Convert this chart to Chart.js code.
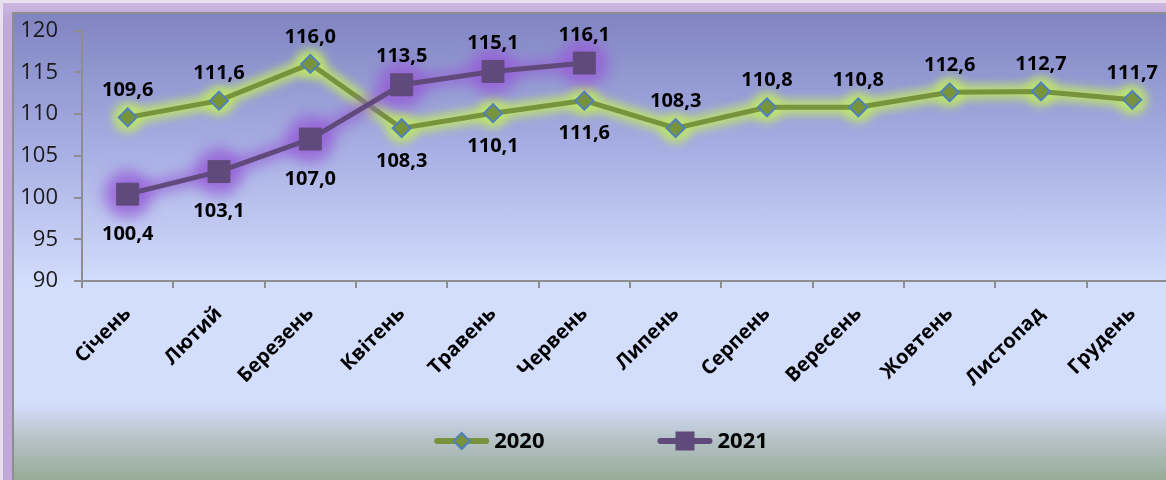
<!DOCTYPE html>
<html><head><meta charset="utf-8">
<script src="https://cdn.jsdelivr.net/npm/chart.js@4.4.1/dist/chart.umd.min.js"></script>
<style>
html,body{margin:0;padding:0;width:1166px;height:480px;overflow:hidden;background:#e8e0ef;}
#f1{position:absolute;left:3px;top:3px;width:1260px;height:520px;background:linear-gradient(#cdb7e0,#c2a9db 3%,#c2a9db);}
#f2{position:absolute;left:12px;top:12px;width:1240px;height:466px;border-left:2px solid #8e8e8e;border-top:2px solid #8e8e8e;
background:linear-gradient(to bottom,#8085c2 0%,#a9b0e4 30%,#d3ddfc 58%,#d3ddfc 84%,#b6c3c8 91%,#97ab96 100%);}
canvas{position:absolute;left:0;top:0;}
</style>
</head><body>
<div id="f1"></div>
<div id="f2"><canvas id="c" width="1190" height="466" style="width:1190px;height:466px"></canvas></div>
<script>
const categories = ['Січень','Лютий','Березень','Квітень','Травень','Червень','Липень','Серпень','Вересень','Жовтень','Листопад','Грудень'];
const values2020 = [109.6,111.6,116.0,108.3,110.1,111.6,108.3,110.8,110.8,112.6,112.7,111.7];
const values2021 = [100.4,103.1,107.0,113.5,115.1,116.1,null,null,null,null,null,null];
const seriesNames = ['2020','2021'];
const yTicks = [90,95,100,105,110,115,120];

// label placement: a = above, b = below
const placement = [
  ['a','a','a','b','b','b','a','a','a','a','a','a'],
  ['b','b','b','a','a','a']
];
const labelOffsets = [{above:27, below:33},{above:28, below:40}];
const glow = [
  {color:'rgba(190,228,105,0.9)', line:15, radius:15, blur:5},
  {color:'rgba(150,95,215,0.8)', line:13, radius:24, blur:7}
];

Chart.defaults.font.family = "'Open Sans', sans-serif";

const glowPlugin = {
  id:'glow',
  beforeDatasetDraw(chart, args){
    const g = glow[args.index];
    const pts = args.meta.data.filter(p => !p.skip);
    const ctx = chart.ctx;
    ctx.save();
    ctx.filter = 'blur(' + g.blur + 'px)';
    ctx.strokeStyle = g.color; ctx.fillStyle = g.color;
    ctx.lineWidth = g.line; ctx.lineJoin = 'round'; ctx.lineCap = 'round';
    ctx.beginPath();
    pts.forEach((p,i) => i ? ctx.lineTo(p.x,p.y) : ctx.moveTo(p.x,p.y));
    ctx.stroke();
    pts.forEach(p => { ctx.beginPath(); ctx.arc(p.x,p.y,g.radius,0,Math.PI*2); ctx.fill(); });
    ctx.restore();
  }
};

const labelPlugin = {
  id:'valueLabels',
  afterDatasetsDraw(chart){
    const ctx = chart.ctx;
    ctx.save();
    ctx.font = "bold 20px 'Open Sans', sans-serif";
    ctx.fillStyle = '#000';
    ctx.textAlign = 'center';
    ctx.textBaseline = 'middle';
    chart.data.datasets.forEach((ds, di) => {
      const meta = chart.getDatasetMeta(di);
      meta.data.forEach((pt, i) => {
        const v = ds.data[i];
        if (v == null) return;
        const txt = v.toFixed(1).replace('.', ',');
        const dy = placement[di][i] === 'b' ? labelOffsets[di].below : -labelOffsets[di].above;
        ctx.fillText(txt, pt.x, pt.y + dy);
      });
    });
    ctx.restore();
  }
};

const legendPlugin = {
  id:'customLegend',
  afterDraw(chart){
    const ctx = chart.ctx;
    ctx.save();
    ctx.font = "bold 22px 'Open Sans', sans-serif";
    ctx.textBaseline = 'middle';
    const y = 427, lineW = 55, gapText = 5, gapItem = 113;
    const items = chart.data.datasets.map(ds => ({ds, tw: ctx.measureText(ds.label).width}));
    const total = items.reduce((s,it)=>s+lineW+gapText+it.tw,0) + gapItem*(items.length-1);
    let x = 587 - total/2;
    items.forEach(it => {
      const ds = it.ds;
      ctx.strokeStyle = ds.borderColor; ctx.lineWidth = 6; ctx.lineCap = 'round';
      ctx.beginPath(); ctx.moveTo(x+3,y); ctx.lineTo(x+lineW-3,y); ctx.stroke();
      const cx = x + lineW/2;
      ctx.fillStyle = ds.pointBackgroundColor;
      ctx.strokeStyle = ds.pointBorderColor; ctx.lineWidth = 2;
      ctx.beginPath();
      if (ds.pointStyle === 'rectRot') {
        ctx.moveTo(cx, y-8); ctx.lineTo(cx+8, y); ctx.lineTo(cx, y+8); ctx.lineTo(cx-8, y); ctx.closePath();
      } else {
        ctx.rect(cx-8.5, y-8.5, 17, 17);
      }
      ctx.fill(); ctx.stroke();
      ctx.fillStyle = '#000';
      ctx.textAlign = 'left';
      ctx.fillText(ds.label, x + lineW + gapText, y+1);
      x += lineW + gapText + it.tw + gapItem;
    });
    ctx.restore();
  }
};

new Chart(document.getElementById('c'), {
  type:'line',
  data:{
    labels: categories,
    datasets:[
      {label:seriesNames[0], data:values2020, borderColor:'#77933c', borderWidth:5,
       pointStyle:'rectRot', pointRadius:9, pointHoverRadius:9, pointBackgroundColor:'#77933c', pointBorderColor:'#4f81bd', pointBorderWidth:2,
       tension:0, order:2},
      {label:seriesNames[1], data:values2021, borderColor:'#604a7b', borderWidth:5,
       pointStyle:'rect', pointRadius:15.5, pointHoverRadius:15.5, pointBackgroundColor:'#604a7b', pointBorderColor:'#604a7b', pointBorderWidth:1,
       tension:0, order:1}
    ]
  },
  options:{
    responsive:false,
    animation:false,
    events:[],
    layout:{padding:{top:15, right:26, bottom:79, left:0}},
    plugins:{legend:{display:false}, tooltip:{enabled:false}},
    scales:{
      x:{
        offset:true,
        grid:{display:true, offset:true, drawOnChartArea:false, drawTicks:true, tickLength:7, color:'#8e8e8e', lineWidth:2},
        border:{display:true, color:'#8e8e8e', width:2},
        ticks:{autoSkip:false, maxRotation:45, minRotation:45, padding:14, color:'#000', font:{size:20, weight:'bold'}},
        afterFit(s){ s.height = 120; s.paddingLeft = 0; s.paddingRight = 0; }
      },
      y:{
        min:90, max:120,
        afterBuildTicks(s){ s.ticks = yTicks.map(v => ({value:v})); },
        grid:{display:true, drawOnChartArea:false, drawTicks:true, tickLength:8, color:'#8e8e8e', lineWidth:2},
        border:{display:true, color:'#8e8e8e', width:2},
        ticks:{padding:16, color:'#1a1a1a', font:{size:22}},
        afterFit(s){ s.width = 68; s.paddingTop = 0; s.paddingBottom = 0; }
      }
    }
  },
  plugins:[glowPlugin, labelPlugin, legendPlugin]
});
</script>
</body></html>
